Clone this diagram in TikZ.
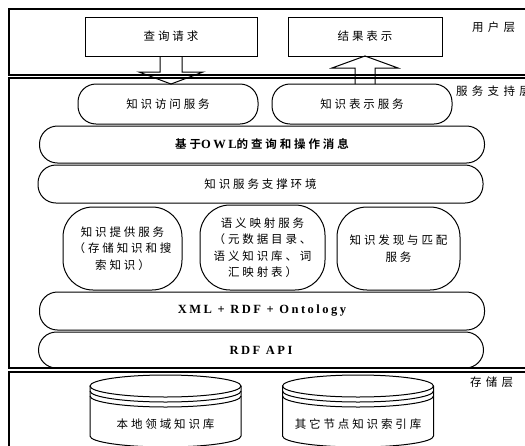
\documentclass[tikz,border=0pt]{standalone}
\usepackage{fontspec}
\setmainfont{Liberation Serif}
\newfontfamily\cjk[LetterSpace=25]{Noto Sans CJK SC}
\newfontfamily\cjkw[LetterSpace=38]{Noto Sans CJK SC}
\newfontfamily\cjkb[LetterSpace=25]{Noto Sans CJK SC Bold}
\newfontfamily\latb[LetterSpace=20]{Liberation Serif Bold}
\usetikzlibrary{calc}
\begin{document}
\begin{tikzpicture}[x=1pt,y=-1pt,
  every node/.style={inner sep=0pt,outer sep=0pt},
  frame/.style={draw,line width=1.1pt},
  sqbox/.style={draw,line width=1pt,minimum height=39pt,font=\cjk\fontsize{11.5}{12}\selectfont},
  rbox/.style={draw,line width=1pt,rounded corners=18pt,font=\cjk\fontsize{11.5}{12}\selectfont},
  mbox/.style={draw,line width=1pt,rounded corners=30pt,minimum height=83pt,align=center,font=\cjk\fontsize{11.5}{16.5}\selectfont},
  blockarrow/.style={draw,line width=1pt,line join=miter},
  layerlab/.style={anchor=west,font=\cjkw\fontsize{11.5}{12}\selectfont},
  cyl/.style={draw,line width=1pt},
  cyltext/.style={font=\cjk\fontsize{11.5}{12}\selectfont}]
\useasboundingbox (0,0) rectangle (525,445);
\begin{scope}
\clip (0,0) rectangle (525,445);
% layer frames
\draw[frame] (9,9) rectangle (540,75);
\draw[frame] (9,78) rectangle (540,368);
\draw[frame] (9,372) rectangle (540,460);
% layer labels
\node[layerlab] (ul) at (472,27) {用户层};
\node[layerlab] (sl) at (456,91) {服务支持层};
\node[layerlab] (stl) at (470,382) {存储层};
% user layer boxes
\node[sqbox,minimum width=172pt] (q) at (171,36.5) {查询请求};
\node[sqbox,minimum width=154pt] (r) at (365,36.5) {结果表示};
% service boxes
\node[rbox,minimum width=180pt,minimum height=40pt] (acc) at (168,104) {知识访问服务};
\node[rbox,minimum width=180pt,minimum height=40pt] (rep) at (362,104) {知识表示服务};
\node[rbox,minimum width=445pt,minimum height=37pt,font=\cjkb\fontsize{11.5}{12}\selectfont] (owl) at (262,144.5) {基于{\latb\fontsize{12.5}{12}\selectfont OWL}的查询和操作消息};
\node[rbox,minimum width=445pt,minimum height=38pt] (env) at (260.5,184) {知识服务支撑环境};
\node[mbox,minimum width=119pt] (p1) at (122.5,248.5) {知识提供服务\\（存储知识和搜\\索知识）};
\node[mbox,minimum width=125pt,minimum height=85pt] (p2) at (262.5,247.5) {语义映射服务\\（元数据目录、\\语义知识库、词\\汇映射表）};
\node[mbox,minimum width=123pt] (p3) at (398.5,248.5) {知识发现与匹配\\服务};
\node[rbox,minimum width=445pt,minimum height=38pt,font=\latb\fontsize{12.5}{12}\selectfont] (xml) at (262,311) {XML + RDF + Ontology};
\node[rbox,minimum width=445pt,minimum height=36pt,font=\latb\fontsize{12.5}{12}\selectfont] (api) at (261,350) {RDF API};
% block arrows
\draw[blockarrow] ($(q.south)+(-11,0)$) -- ++(0,16) -- ++(-21,0) -- (q.south |- acc.north)
  -- ($(q.south)+(32,16)$) -- ++(-21,0) -- ($(q.south)+(11,0)$);
\draw[blockarrow] ($(r.south |- rep.north)+(-10,0)$) -- ($(r.south)+(-10,12)$) -- ($(r.south)+(-33,12)$)
  -- (r.south) -- ($(r.south)+(33,12)$) -- ($(r.south)+(10,12)$) -- ($(r.south |- rep.north)+(10,0)$);
% cylinders
\foreach \cx/\nm/\txt in {165.5/db1/本地领域知识库, 358/db2/其它节点知识索引库}{
  \draw[cyl] (\cx,386) ellipse [x radius=75.5, y radius=11];
  \draw[cyl] (\cx-75.5,391) arc[start angle=180,end angle=0,x radius=75.5,y radius=11];
  \draw[cyl] (\cx-75.5,396) arc[start angle=180,end angle=0,x radius=75.5,y radius=11];
  \draw[cyl] (\cx-75.5,386) -- (\cx-75.5,436) arc[start angle=180,end angle=0,x radius=75.5,y radius=11] -- (\cx+75.5,386);
  \node[cyltext] (\nm) at (\cx,424) {\txt};
}
\end{scope}
\end{tikzpicture}
\end{document}
